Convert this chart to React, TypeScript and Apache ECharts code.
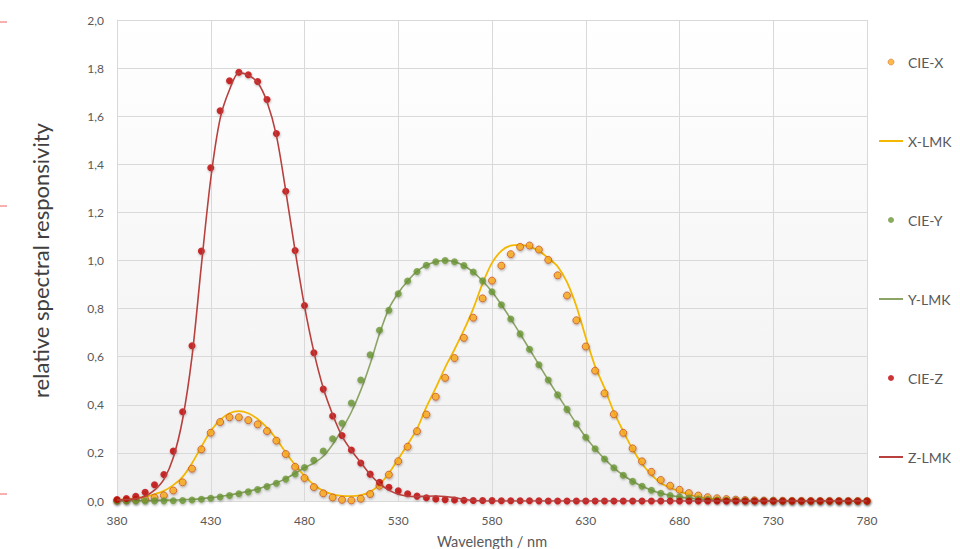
import React, { useEffect, useRef } from "react";
import * as echarts from "echarts";

// Wavelength grid (nm)
const wavelengths = [
  380, 385, 390, 395, 400, 405, 410, 415, 420, 425,
  430, 435, 440, 445, 450, 455, 460, 465, 470, 475,
  480, 485, 490, 495, 500, 505, 510, 515, 520, 525,
  530, 535, 540, 545, 550, 555, 560, 565, 570, 575,
  580, 585, 590, 595, 600, 605, 610, 615, 620, 625,
  630, 635, 640, 645, 650, 655, 660, 665, 670, 675,
  680, 685, 690, 695, 700, 705, 710, 715, 720, 725,
  730, 735, 740, 745, 750, 755, 760, 765, 770, 775,
  780,
];

const cieX = [
  0.001368, 0.002236, 0.004243, 0.00765, 0.01431, 0.02319, 0.04351, 0.07763, 0.13438, 0.21477,
  0.2839, 0.3285, 0.34828, 0.34806, 0.3362, 0.3187, 0.2908, 0.2511, 0.19536, 0.1421,
  0.09564, 0.05795, 0.03201, 0.0147, 0.0049, 0.0024, 0.0093, 0.0291, 0.06327, 0.1096,
  0.1655, 0.22575, 0.2904, 0.3597, 0.43345, 0.51205, 0.5945, 0.6784, 0.7621, 0.8425,
  0.9163, 0.9786, 1.0263, 1.0567, 1.0622, 1.0456, 1.0026, 0.9384, 0.85445, 0.7514,
  0.6424, 0.5419, 0.4479, 0.3608, 0.2835, 0.2187, 0.1649, 0.1212, 0.0874, 0.0636,
  0.04677, 0.0329, 0.0227, 0.01584, 0.011359, 0.008111, 0.00579, 0.004109, 0.002899, 0.002049,
  0.00144, 0.001, 0.00069, 0.000476, 0.000332, 0.000235, 0.000166, 0.000117, 0.000083, 0.000059,
  0.000042,
];

const lmkX = [
  0.005, 0.008, 0.012, 0.018, 0.028, 0.042, 0.066, 0.1, 0.157, 0.226,
  0.291, 0.337, 0.365, 0.374, 0.365, 0.341, 0.305, 0.258, 0.202, 0.15,
  0.104, 0.067, 0.042, 0.028, 0.021, 0.02, 0.024, 0.038, 0.068, 0.115,
  0.175, 0.235, 0.3, 0.39, 0.47, 0.555, 0.63, 0.71, 0.8, 0.905,
  0.99, 1.04, 1.062, 1.065, 1.058, 1.04, 1.01, 0.975, 0.91, 0.81,
  0.68, 0.56, 0.47, 0.37, 0.29, 0.215, 0.155, 0.11, 0.075, 0.055,
  0.04, 0.027, 0.017, 0.011, 0.007, 0.005, 0.003, 0.002, 0.001, 0.001,
  0, 0, 0, 0, 0, 0, 0, 0, 0, 0,
  0,
];

const cieY = [
  0.000039, 0.000064, 0.00012, 0.000217, 0.000396, 0.00064, 0.00121, 0.00218, 0.004, 0.0073,
  0.0116, 0.01684, 0.023, 0.0298, 0.038, 0.048, 0.06, 0.0739, 0.09098, 0.1126,
  0.13902, 0.1693, 0.20802, 0.2586, 0.323, 0.4073, 0.503, 0.6082, 0.71, 0.7932,
  0.862, 0.91485, 0.954, 0.9803, 0.99495, 1.0, 0.995, 0.9786, 0.952, 0.9154,
  0.87, 0.8163, 0.757, 0.6949, 0.631, 0.5668, 0.503, 0.4412, 0.381, 0.321,
  0.265, 0.217, 0.175, 0.1382, 0.107, 0.0816, 0.061, 0.04458, 0.032, 0.0232,
  0.017, 0.01192, 0.00821, 0.005723, 0.004102, 0.002929, 0.002091, 0.001484, 0.001047, 0.00074,
  0.00052, 0.000361, 0.000249, 0.000172, 0.00012, 0.000085, 0.00006, 0.000042, 0.00003, 0.000021,
  0.000015,
];

const lmkY = [
  0.0005, 0.0008, 0.001, 0.0015, 0.002, 0.003, 0.004, 0.005, 0.007, 0.01,
  0.014, 0.019, 0.025, 0.032, 0.04, 0.05, 0.062, 0.076, 0.093, 0.115,
  0.138, 0.158, 0.186, 0.235, 0.298, 0.37, 0.46, 0.57, 0.695, 0.8,
  0.865, 0.915, 0.955, 0.98, 0.995, 1.0, 0.995, 0.978, 0.952, 0.915,
  0.87, 0.816, 0.757, 0.695, 0.631, 0.567, 0.503, 0.441, 0.381, 0.321,
  0.265, 0.217, 0.175, 0.138, 0.107, 0.082, 0.061, 0.045, 0.032, 0.023,
  0.017, 0.012, 0.008, 0.006, 0.004, 0.003, 0.002, 0.0015, 0.001, 0.0007,
  0.0005, 0.0004, 0.0002, 0.0002, 0.0001, 0.0001, 0, 0, 0, 0,
  0,
];

const cieZ = [
  0.00645, 0.01055, 0.02005, 0.03621, 0.06785, 0.1102, 0.2074, 0.3713, 0.6456, 1.03905,
  1.3856, 1.62296, 1.74706, 1.7826, 1.77211, 1.7441, 1.6692, 1.5281, 1.28764, 1.0419,
  0.81295, 0.6162, 0.46518, 0.3533, 0.272, 0.2123, 0.1582, 0.1117, 0.07825, 0.05725,
  0.04216, 0.02984, 0.0203, 0.0134, 0.00875, 0.00575, 0.0039, 0.00275, 0.0021, 0.0018,
  0.00165, 0.0014, 0.0011, 0.001, 0.0008, 0.0006, 0.00034, 0.00024, 0.00019, 0.0001,
  0.00005, 0.00003, 0.00002, 0.00001, 0, 0, 0, 0, 0, 0,
  0, 0, 0, 0, 0, 0, 0, 0, 0, 0,
  0, 0, 0, 0, 0, 0, 0, 0, 0, 0,
  0,
];

const lmkZ = [
  0.004, 0.006, 0.01, 0.02, 0.045, 0.09, 0.18, 0.34, 0.6, 0.98,
  1.34, 1.59, 1.71, 1.78, 1.77, 1.74, 1.66, 1.52, 1.29, 1.04,
  0.81, 0.62, 0.47, 0.36, 0.27, 0.21, 0.16, 0.11, 0.072, 0.045,
  0.028, 0.02, 0.018, 0.02, 0.021, 0.019, 0.014, 0.007, 0.002, 0,
  0, 0, 0, 0, 0, 0, 0, 0, 0, 0,
  0, 0, 0, 0, 0, 0, 0, 0, 0, 0,
  0, 0, 0, 0, 0, 0, 0, 0, 0, 0,
  0, 0, 0, 0, 0, 0, 0, 0, 0, 0,
  0,
];

const seriesNames = ["CIE-X", "X-LMK", "CIE-Y", "Y-LMK", "CIE-Z", "Z-LMK"];
const xTickMin = 380;
const xTickMax = 780;
const xTickStep = 50;
const yTickMin = 0;
const yTickMax = 2;
const yTickStep = 0.2;

const FONT = "Lato, 'Open Sans', 'Liberation Sans', sans-serif";

const pairs = (vals: number[]) => wavelengths.map((w, i) => [w, vals[i]]);

export default function App() {
  const ref = useRef<HTMLDivElement>(null);

  useEffect(() => {
    if (!ref.current) return;
    const chart = echarts.init(ref.current, undefined, { renderer: "svg" });

    const dotShadow = {
      shadowBlur: 2,
      shadowColor: "rgba(0,0,0,0.35)",
      shadowOffsetX: 0.5,
      shadowOffsetY: 1.2,
    };

    const option: any = {
      animation: false,
      backgroundColor: "#ffffff",
      textStyle: { fontFamily: FONT },
      grid: {
        left: 117,
        right: 93,
        top: 20,
        bottom: 48,
        outerBoundsMode: "none",
        containLabel: false,
        show: true,
        borderWidth: 0,
        backgroundColor: new echarts.graphic.LinearGradient(0, 0, 0, 1, [
          { offset: 0, color: "#ffffff" },
          { offset: 1, color: "#f0f0f0" },
        ]),
      },
      legend: {
        orient: "vertical",
        left: 873,
        top: 49,
        itemWidth: 24,
        itemHeight: 6,
        itemGap: 63,
        selectedMode: false,
        textStyle: { fontFamily: FONT, fontSize: 14, color: "#595959", lineHeight: 16 },
        data: [
          { name: seriesNames[0], icon: "circle", itemStyle: { borderWidth: 0.6 } },
          { name: seriesNames[1], itemStyle: { opacity: 0 } },
          { name: seriesNames[2], icon: "circle" },
          { name: seriesNames[3], itemStyle: { opacity: 0 } },
          { name: seriesNames[4], icon: "circle" },
          { name: seriesNames[5], itemStyle: { opacity: 0 } },
        ],
      },
      xAxis: {
        type: "value",
        min: xTickMin,
        max: xTickMax,
        interval: xTickStep,
        name: "Wavelength / nm",
        nameLocation: "middle",
        nameGap: 33,
        nameTextStyle: { fontFamily: FONT, fontSize: 14.5, color: "#595959" },
        axisLine: { show: true, lineStyle: { color: "#d9d9d9", width: 1 } },
        axisTick: { show: false },
        axisLabel: { fontFamily: FONT, fontSize: 12, color: "#595959", margin: 13 },
        splitLine: { show: true, lineStyle: { color: "#d9d9d9", width: 1 } },
      },
      yAxis: {
        type: "value",
        min: yTickMin,
        max: yTickMax,
        interval: yTickStep,
        name: "relative spectral responsivity",
        nameLocation: "middle",
        nameRotate: 90,
        nameGap: 66,
        nameTextStyle: { fontFamily: FONT, fontSize: 22, color: "#404040" },
        axisLine: { show: true, lineStyle: { color: "#d9d9d9", width: 1 } },
        axisTick: { show: false },
        axisLabel: {
          fontFamily: FONT,
          fontSize: 12,
          color: "#595959",
          margin: 13,
          formatter: (v: number) => v.toFixed(1).replace(".", ","),
        },
        splitLine: { show: true, lineStyle: { color: "#d9d9d9", width: 1 } },
      },
      series: [
        {
          name: seriesNames[0],
          type: "scatter",
          symbol: "circle",
          symbolSize: 7,
          data: pairs(cieX),
          itemStyle: { color: "#FBAA1A", borderColor: "#C8582A", borderWidth: 1, ...dotShadow },
          z: 3,
        },
        {
          name: seriesNames[1],
          type: "line",
          smooth: 0.3,
          symbol: "none",
          data: pairs(lmkX),
          lineStyle: { color: "#F5B800", width: 1.8 },
          itemStyle: { color: "#F5B800" },
          z: 2,
        },
        {
          name: seriesNames[2],
          type: "scatter",
          symbol: "circle",
          symbolSize: 7,
          data: pairs(cieY),
          itemStyle: { color: "#6A9636", ...dotShadow },
          z: 3,
        },
        {
          name: seriesNames[3],
          type: "line",
          smooth: 0.3,
          symbol: "none",
          data: pairs(lmkY),
          lineStyle: { color: "#8CA466", width: 1.6 },
          itemStyle: { color: "#8CA466" },
          z: 2,
        },
        {
          name: seriesNames[4],
          type: "scatter",
          symbol: "circle",
          symbolSize: 7,
          data: pairs(cieZ),
          itemStyle: { color: "#C00000", ...dotShadow },
          z: 3,
        },
        {
          name: seriesNames[5],
          type: "line",
          smooth: 0.3,
          symbol: "none",
          data: pairs(lmkZ),
          lineStyle: { color: "#B8403E", width: 1.6 },
          itemStyle: { color: "#B8403E" },
          z: 4,
        },
      ],
      graphic: [
        { type: "line", shape: { x1: 0, y1: 22, x2: 7, y2: 22 }, style: { stroke: "#f06060", lineWidth: 1 } },
        { type: "line", shape: { x1: 0, y1: 206, x2: 7, y2: 206 }, style: { stroke: "#f06060", lineWidth: 1 } },
        { type: "line", shape: { x1: 0, y1: 494, x2: 7, y2: 494 }, style: { stroke: "#f06060", lineWidth: 1 } },
      ],
    };

    chart.setOption(option);
    return () => chart.dispose();
  }, []);

  return (
    <div
      ref={ref}
      style={{ position: "fixed", left: 0, top: 0, width: 960, height: 549, background: "#fff" }}
    />
  );
}
